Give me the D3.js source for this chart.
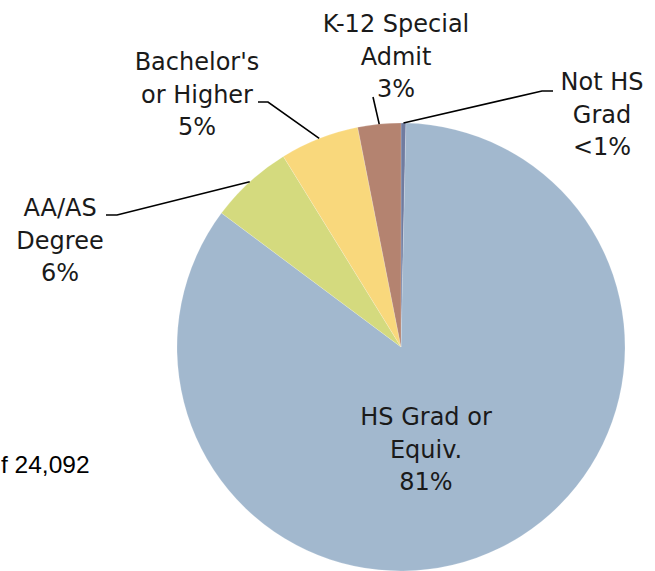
<!DOCTYPE html>
<html>
<head>
<meta charset="utf-8">
<script src="https://cdn.jsdelivr.net/npm/d3@7"></script>
<style>
  body { margin: 0; background: #fff; }
  svg { display: block; }
</style>
</head>
<body>
<div id="chart"></div>
<script>
// data (slice sizes as shares of the pie)
var categories = ["Not HS Grad", "HS Grad or Equiv.", "AA/AS Degree", "Bachelor's or Higher", "K-12 Special Admit"];
var shares = [0.35, 84.85, 6.0, 5.7, 3.1];
var labelLines = [
  ["Not HS", "Grad", "<1%"],
  ["HS Grad or", "Equiv.", "81%"],
  ["AA/AS", "Degree", "6%"],
  ["Bachelor's", "or Higher", "5%"],
  ["K-12 Special", "Admit", "3%"]
];
var colors = ["#707ca0", "#a2b8ce", "#d4da7e", "#f9d87c", "#b48370"];
var totalNote = "f 24,092";

// layout
var width = 655, height = 571;
var cx = 401, cy = 347, radius = 224;

// where each label sits and where its leader line bends (null = inside / no line)
var labelPos = [
  { x: 602, y: 90, bend: [[542, 91], [553, 91]] },
  { x: 426, y: 425, bend: null },
  { x: 60, y: 216, bend: [[117, 215], [106, 215]] },
  { x: 197, y: 70, bend: [[268, 102], [258, 102]] },
  { x: 396, y: 32, bend: [[373, 97]] }
];

var svg = d3.select("#chart")
  .append("svg")
  .attr("width", width)
  .attr("height", height);

var pie = d3.pie().sort(null).value(function (d) { return d; });
var arcs = pie(shares);

var arc = d3.arc().innerRadius(0).outerRadius(radius);
var edge = d3.arc().innerRadius(radius).outerRadius(radius);

var g = svg.append("g")
  .attr("transform", "translate(" + cx + "," + cy + ")");

g.selectAll("path")
  .data(arcs)
  .enter()
  .append("path")
  .attr("d", arc)
  .style("fill", function (d, i) { return colors[i]; })
  .style("stroke", "#ffffff")
  .style("stroke-opacity", 0.35)
  .style("stroke-width", 0.5);

// leader lines from the slice edge to the label
var line = d3.line();
arcs.forEach(function (d, i) {
  var p = labelPos[i];
  if (!p.bend) return;
  var c = edge.centroid(d);
  var pts = [[c[0] + cx, c[1] + cy]].concat(p.bend);
  svg.append("path")
    .attr("d", line(pts))
    .style("fill", "none")
    .style("stroke", "#000")
    .style("stroke-width", 1.6);
});

// labels
categories.forEach(function (name, i) {
  var p = labelPos[i];
  var t = svg.append("text")
    .attr("x", p.x)
    .attr("y", p.y)
    .attr("text-anchor", "middle")
    .style("font-family", "'DejaVu Sans', sans-serif")
    .style("font-size", "24px")
    .style("fill", "#1a1a1a");
  labelLines[i].forEach(function (s, j) {
    t.append("tspan")
      .attr("x", p.x)
      .attr("dy", j === 0 ? 0 : 32.5)
      .text(s);
  });
});

svg.append("text")
  .attr("x", 1)
  .attr("y", 473)
  .style("font-family", "'Liberation Sans', sans-serif")
  .style("font-size", "24.5px")
  .style("fill", "#000")
  .text(totalNote);
</script>
</body>
</html>
